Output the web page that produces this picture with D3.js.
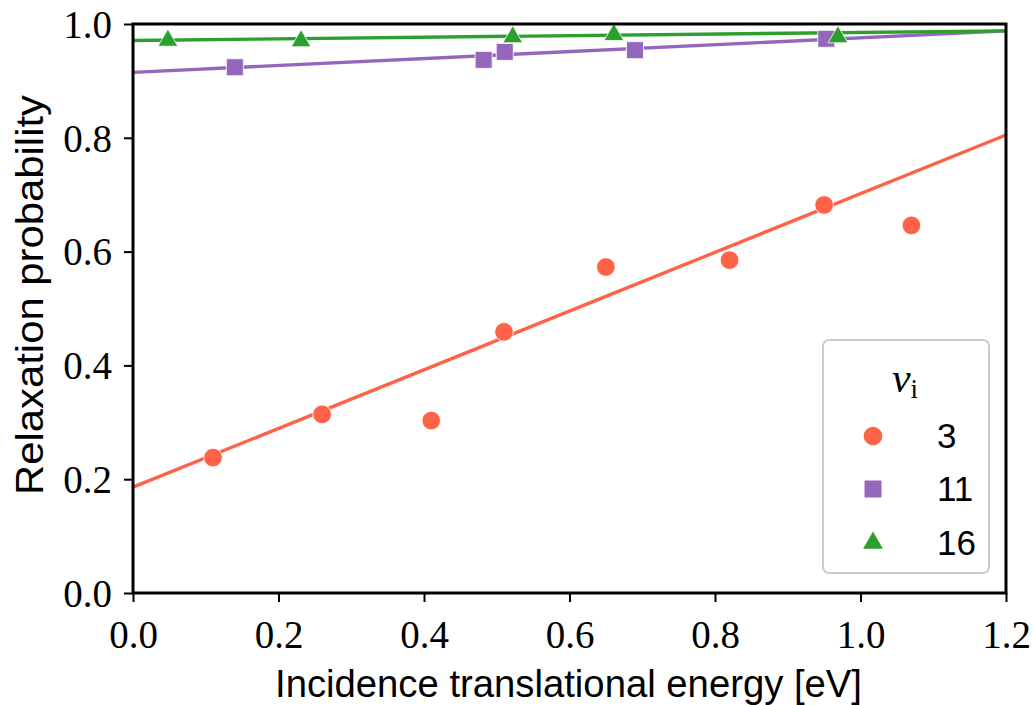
<!DOCTYPE html>
<html>
<head>
<meta charset="utf-8">
<script src="https://cdn.jsdelivr.net/npm/d3@7"></script>
<style>
  html, body { margin: 0; padding: 0; background: #fff; }
  svg { display: block; }
</style>
</head>
<body>
<svg id="chart" width="1033" height="705"></svg>
<script>
// ---- data ----
const xTicks = [0.0, 0.2, 0.4, 0.6, 0.8, 1.0, 1.2];
const yTicks = [0.0, 0.2, 0.4, 0.6, 0.8, 1.0];
const seriesNames = ["3", "11", "16"];
const colors = ["#ff6347", "#9467bd", "#2ca02c"];
const markers = ["circle", "square", "triangle"];

const energy3 = [0.11, 0.26, 0.41, 0.51, 0.65, 0.82, 0.95, 1.07];
const prob3   = [0.238, 0.314, 0.303, 0.459, 0.573, 0.585, 0.682, 0.646];
const energy11 = [0.14, 0.482, 0.511, 0.69, 0.953];
const prob11   = [0.924, 0.937, 0.951, 0.954, 0.974];
const energy16 = [0.048, 0.231, 0.522, 0.661, 0.969];
const prob16   = [0.971, 0.970, 0.977, 0.981, 0.977];

// fitted lines: [x, y] endpoints
const fit3  = [[0.0, 0.186], [1.2, 0.805]];
const fit11 = [[0.0, 0.915], [1.2, 0.988]];
const fit16 = [[0.0, 0.971], [1.2, 0.988]];

const series = [
  { name: seriesNames[0], x: energy3,  y: prob3,  fit: fit3 },
  { name: seriesNames[1], x: energy11, y: prob11, fit: fit11 },
  { name: seriesNames[2], x: energy16, y: prob16, fit: fit16 },
];

// ---- layout ----
const svg = d3.select("#chart");
const L = 133, R = 1006, T = 24, B = 593;
const x = d3.scaleLinear().domain([0, 1.2]).range([L, R]);
const y = d3.scaleLinear().domain([0, 1.0]).range([B, T]);

const serif = "'Liberation Serif', 'DejaVu Serif', serif";
const sans = "'Liberation Sans', 'DejaVu Sans', sans-serif";

svg.append("defs").append("clipPath").attr("id", "clip")
  .append("rect").attr("x", L).attr("y", T).attr("width", R - L).attr("height", B - T);

const plot = svg.append("g").attr("clip-path", "url(#clip)");

const sym = {
  circle: d3.symbol().type(d3.symbolCircle).size(Math.PI * 9.3 * 9.3),
  square: d3.symbol().type(d3.symbolSquare).size(17 * 17),
  triangle: d3.symbol().type(d3.symbolTriangle).size(170),
};

const line = d3.line().x(d => x(d[0])).y(d => y(d[1]));

series.forEach((s, i) => {
  plot.append("path")
    .attr("d", line(s.fit))
    .attr("fill", "none")
    .attr("stroke", colors[i])
    .attr("stroke-width", 3.4);
  const pts = s.x.map((v, j) => [v, s.y[j]]);
  svg.append("g").selectAll("path").data(pts).join("path")
    .attr("d", sym[markers[i]])
    .attr("transform", d => `translate(${x(d[0])},${y(d[1])})`)
    .attr("fill", colors[i])
    .attr("stroke", "#fff")
    .attr("stroke-width", 0.8);
});

// ---- axes ----
const xAxis = d3.axisBottom(x).tickValues(xTicks).tickFormat(d3.format(".1f")).tickSize(9).tickPadding(18);
const yAxis = d3.axisLeft(y).tickValues(yTicks).tickFormat(d3.format(".1f")).tickSize(9).tickPadding(12);

const gx = svg.append("g").attr("transform", `translate(0,${B})`).call(xAxis);
const gy = svg.append("g").attr("transform", `translate(${L},0)`).call(yAxis);
[gx, gy].forEach(g => {
  g.select(".domain").remove();
  g.selectAll(".tick line").attr("stroke", "#000").attr("stroke-width", 2);
  g.selectAll(".tick text").attr("font-family", serif).attr("font-size", 39).attr("fill", "#000");
});
gy.selectAll(".tick text").attr("dy", "0.34em");

// frame
svg.append("rect").attr("x", L).attr("y", T).attr("width", R - L).attr("height", B - T)
  .attr("fill", "none").attr("stroke", "#000").attr("stroke-width", 3);

// axis labels
svg.append("text")
  .attr("x", 568.5).attr("y", 697)
  .attr("text-anchor", "middle")
  .attr("font-family", sans).attr("font-size", 38)
  .attr("textLength", 587).attr("lengthAdjust", "spacingAndGlyphs")
  .text("Incidence translational energy [eV]");

svg.append("text")
  .attr("transform", `translate(43,295) rotate(-90)`)
  .attr("text-anchor", "middle")
  .attr("font-family", sans).attr("font-size", 38)
  .attr("textLength", 400).attr("lengthAdjust", "spacingAndGlyphs")
  .text("Relaxation probability");

// ---- legend ----
const lg = svg.append("g");
lg.append("rect").attr("x", 823).attr("y", 340).attr("width", 166).attr("height", 233)
  .attr("rx", 6).attr("fill", "#fff").attr("fill-opacity", 0.8)
  .attr("stroke", "#cccccc").attr("stroke-width", 2);
const title = lg.append("text").attr("x", 905).attr("y", 392).attr("text-anchor", "middle")
  .attr("font-family", serif).attr("font-size", 42);
title.append("tspan").attr("font-style", "italic").text("ν");
title.append("tspan").attr("font-size", 27).attr("dy", 6).text("i");

const rowY = [436, 489, 543];
series.forEach((s, i) => {
  lg.append("path").attr("d", sym[markers[i]])
    .attr("transform", `translate(873,${rowY[i]})`)
    .attr("fill", colors[i]);
  lg.append("text").attr("x", 937).attr("y", rowY[i] + 12)
    .attr("font-family", sans).attr("font-size", 35)
    .text(s.name);
});
</script>
</body>
</html>
